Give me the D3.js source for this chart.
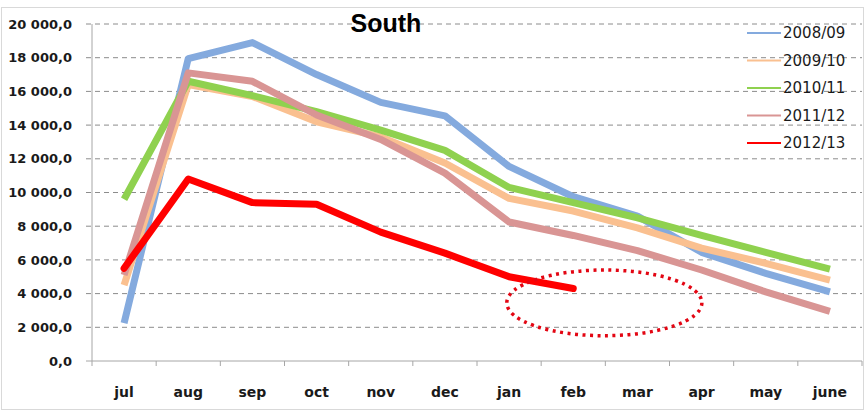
<!DOCTYPE html>
<meta charset="utf-8">
<style>
body { margin: 0; background: #fff; }
.grid line { stroke: #8c8c8c; stroke-dasharray: 5 4; }
.ylab, .xlab { font-family: "DejaVu Sans", sans-serif; font-weight: bold; fill: #1a1a1a; }
.leg text { font-family: "DejaVu Sans", sans-serif; fill: #1a1a1a; }
</style>
<svg width="866" height="412"></svg>
<script src="https://d3js.org/d3.v7.min.js"></script>
<script>

var months = ["jul","aug","sep","oct","nov","dec","jan","feb","mar","apr","may","june"];
var seasons = ["2008/09","2009/10","2010/11","2011/12","2012/13"];
var s0809 = [2250, 17950, 18900, 17000, 15350, 14550, 11550, 9750, 8600, 6450, 5200, 4100];
var s0910 = [4500, 16400, 15700, 14200, 13300, 11750, 9650, 8900, 7900, 6700, 5800, 4800];
var s1011 = [9600, 16600, 15750, 14800, 13700, 12500, 10300, 9400, 8500, 7450, 6450, 5450];
var s1112 = [5100, 17100, 16600, 14600, 13150, 11150, 8250, 7450, 6550, 5400, 4100, 2950];
var s1213 = [5500, 10800, 9400, 9300, 7650, 6400, 5000, 4300];
var yTicks = [0, 2000, 4000, 6000, 8000, 10000, 12000, 14000, 16000, 18000, 20000];
var colors = ["#84aade", "#fac090", "#8fd14f", "#d99594", "#ff0000"];

var series = [s0809, s0910, s1011, s1112, s1213];

var svg = d3.select("svg"),
    plotL = 92, plotR = 862, plotT = 24, plotB = 361;

var locale = d3.formatLocale({decimal: ",", thousands: " ", grouping: [3], currency: ["", ""]});
var fmt = locale.format(",.1f");

var x = d3.scaleBand().domain(months).range([plotL, plotR]);
var y = d3.scaleLinear().domain([0, 20000]).range([plotB, plotT]);
var cx = function(i) { return x(months[i]) + x.bandwidth() / 2; };

// frame
svg.append("rect")
    .attr("x", 1.5).attr("y", 7.5).attr("width", 862).attr("height", 402)
    .attr("fill", "none").attr("stroke", "#d9d9d9");

// gridlines
svg.append("g").attr("class", "grid")
  .selectAll("line")
  .data(yTicks.filter(function(d) { return d > 0; }))
  .enter().append("line")
    .attr("x1", plotL - 6).attr("x2", plotR)
    .attr("y1", function(d) { return y(d); })
    .attr("y2", function(d) { return y(d); });

// axes
svg.append("line").attr("x1", plotL).attr("x2", plotL).attr("y1", plotT).attr("y2", plotB)
    .attr("stroke", "#a6a6a6");
svg.append("line").attr("x1", plotL - 6).attr("x2", plotR).attr("y1", plotB).attr("y2", plotB)
    .attr("stroke", "#a6a6a6");

svg.selectAll(".xtick")
    .data(months.concat(["end"]))
    .enter().append("line")
    .attr("class", "xtick")
    .attr("x1", function(d, i) { return plotL + i * x.step(); })
    .attr("x2", function(d, i) { return plotL + i * x.step(); })
    .attr("y1", plotB).attr("y2", plotB + 5)
    .attr("stroke", "#a6a6a6");

svg.selectAll(".ylab")
    .data(yTicks)
    .enter().append("text")
    .attr("class", "ylab")
    .attr("x", 72)
    .attr("y", function(d) { return y(d); })
    .attr("dy", "0.36em")
    .attr("text-anchor", "end")
    .style("font-size", "13px")
    .text(function(d) { return fmt(d); });

svg.selectAll(".xlab")
    .data(months)
    .enter().append("text")
    .attr("class", "xlab")
    .attr("x", function(d) { return x(d) + x.bandwidth() / 2; })
    .attr("y", 397)
    .attr("text-anchor", "middle")
    .style("font-size", "14px")
    .text(function(d) { return d; });

// lines
var line = d3.line()
    .x(function(d, i) { return cx(i); })
    .y(function(d) { return y(d); });

svg.append("g")
  .selectAll("path")
  .data(series)
  .enter().append("path")
    .attr("d", line)
    .attr("fill", "none")
    .attr("stroke", function(d, i) { return colors[i]; })
    .attr("stroke-width", 7)
    .attr("stroke-linejoin", "round")
    .attr("stroke-linecap", function(d, i) { return i == 4 ? "round" : "butt"; });

// dotted ellipse round the missing months
svg.append("ellipse")
    .attr("cx", (cx(7) + cx(8)) / 2 - 1)
    .attr("cy", y(3450))
    .attr("rx", x.step() * 1.52)
    .attr("ry", y(1500) - y(3450))
    .attr("fill", "none")
    .attr("stroke", "#e30613")
    .attr("stroke-width", 3.5)
    .attr("stroke-dasharray", "3 4.5");

// title
svg.append("text")
    .attr("x", 386).attr("y", 32)
    .attr("text-anchor", "middle")
    .style("font-family", "'Liberation Sans', Arial, sans-serif")
    .style("font-weight", "bold")
    .style("font-size", "25px")
    .text("South");

// legend
var leg = svg.selectAll(".leg")
    .data(seasons)
    .enter().append("g")
    .attr("class", "leg")
    .attr("transform", function(d, i) { return "translate(747," + (33 + i * 27.5) + ")"; });

leg.append("line")
    .attr("x1", 0).attr("x2", 34)
    .attr("stroke", function(d, i) { return colors[i]; })
    .attr("stroke-width", 2);

leg.append("text")
    .attr("x", 36)
    .attr("dy", "0.35em")
    .style("font-size", "15px")
    .text(function(d) { return d; });

</script>
